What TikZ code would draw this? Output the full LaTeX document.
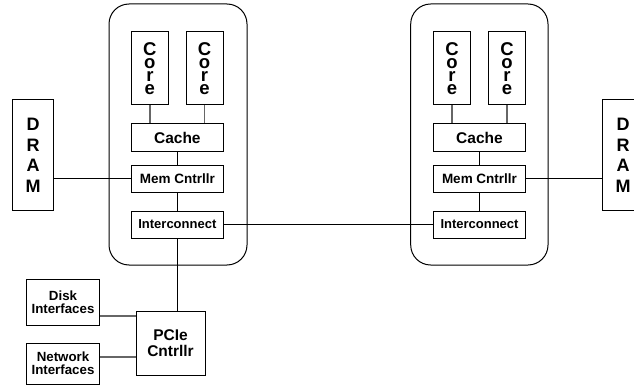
\documentclass[tikz,border=0pt]{standalone}
\usepackage{fontspec}
\setmainfont{Liberation Sans}
\newcommand\vstack[2]{\vbox{\baselineskip=#1\lineskiplimit=-100pt\lineskip=0pt\halign{\hfil##\hfil\cr#2\crcr}}}
\begin{document}
\begin{tikzpicture}[x=1pt,y=-1pt,
  box/.style={draw=black,line width=1pt,rectangle,inner sep=0pt,align=center},
  chip/.style={draw=black,line width=1pt,rectangle,rounded corners=20pt,inner sep=0pt},
  wire/.style={draw=black,line width=1pt},
  gwire/.style={draw=black!60,line width=1.6pt},
  corefont/.style={font=\fontsize{18.5}{13}\selectfont\bfseries},
  lbl/.style={font=\fontsize{13}{13}\selectfont\bfseries}]
\useasboundingbox (0,0) rectangle (634,385);
\clip (0,0) rectangle (634,385);
% chips
\node[chip,minimum width=138pt,minimum height=261pt] (chipL) at (178,134.5) {};
\node[chip,minimum width=137.3pt,minimum height=261pt] (chipR) at (479.35,134.5) {};
% left chip contents
\node[box,corefont,minimum width=36.3pt,minimum height=73pt] (c1L) at (149.85,68.5)
  {\vstack{13pt}{C\cr o\cr r\cr e}};
\node[box,corefont,minimum width=37pt,minimum height=73pt] (c2L) at (204.5,68.5)
  {\vstack{13pt}{C\cr o\cr r\cr e}};
\node[box,minimum width=91.3pt,minimum height=27pt,font=\fontsize{15.5}{15.5}\selectfont\bfseries] (cacheL) at (177.35,137.5) {Cache};
\node[box,minimum width=91.3pt,minimum height=27pt,font=\fontsize{13.5}{13.5}\selectfont\bfseries] (memL) at (177.35,178.5) {Mem Cntrllr};
\node[box,minimum width=91.3pt,minimum height=27pt,lbl] (intL) at (177.35,224.5) {Interconnect};
% right chip contents
\node[box,corefont,minimum width=37.4pt,minimum height=73pt] (c1R) at (452,68.5)
  {\vstack{13pt}{C\cr o\cr r\cr e}};
\node[box,corefont,minimum width=37.4pt,minimum height=73pt] (c2R) at (507,68.5)
  {\vstack{13pt}{C\cr o\cr r\cr e}};
\node[box,minimum width=92.4pt,minimum height=27pt,font=\fontsize{15.5}{15.5}\selectfont\bfseries] (cacheR) at (479.5,137.5) {Cache};
\node[box,minimum width=92.4pt,minimum height=27pt,font=\fontsize{13.5}{13.5}\selectfont\bfseries] (memR) at (479.5,178.5) {Mem Cntrllr};
\node[box,minimum width=92.4pt,minimum height=27pt,lbl] (intR) at (479.5,224.5) {Interconnect};
% DRAMs
\node[box,minimum width=41pt,minimum height=110.7pt,font=\fontsize{18}{20.7}\selectfont\bfseries] (dramL) at (33.2,155.35)
  {\vstack{20.7pt}{D\cr R\cr A\cr M}};
\node[box,minimum width=41pt,minimum height=110.7pt,font=\fontsize{18}{20.7}\selectfont\bfseries] (dramR) at (623.2,155.35)
  {\vstack{20.7pt}{D\cr R\cr A\cr M}};
% IO
\node[box,minimum width=69pt,minimum height=63.7pt,font=\fontsize{15.5}{15.5}\selectfont\bfseries] (pcie) at (170.5,343.2) {PCIe\\Cntrllr};
\node[box,minimum width=72.6pt,minimum height=45.7pt,font=\fontsize{13.3}{13}\selectfont\bfseries] (disk) at (63,302.2) {Disk\\Interfaces};
\node[box,minimum width=72.6pt,minimum height=40.7pt,font=\fontsize{13.3}{13}\selectfont\bfseries] (net) at (63,363.7) {Network\\Interfaces};
% connectors
\draw[gwire] (c1L.south) -- (c1L.south |- cacheL.north);
\draw[gwire] (c2L.south) -- (c2L.south |- cacheL.north);
\draw[gwire] (c1R.south) -- (c1R.south |- cacheR.north);
\draw[gwire] (c2R.south) -- (c2R.south |- cacheR.north);
\draw[wire] (cacheL.south) -- (memL.north);
\draw[wire] (memL.south) -- (intL.north);
\draw[wire] (cacheR.south) -- (memR.north);
\draw[wire] (memR.south) -- (intR.north);
\draw[wire] (memL.west) -- (memL.west -| dramL.east);
\draw[wire] (memR.east) -- (memR.east -| dramR.west);
\draw[wire] (intL.east) -- (intR.west);
\draw[wire] (intL.south) -- (intL.south |- pcie.north);
\draw[gwire] ([yshift=-13.5pt]disk.east) -- ([yshift=-13.5pt]disk.east -| pcie.west);
\draw[gwire] ([yshift=6.7pt]net.east) -- ([yshift=6.7pt]net.east -| pcie.west);
\end{tikzpicture}
\end{document}
